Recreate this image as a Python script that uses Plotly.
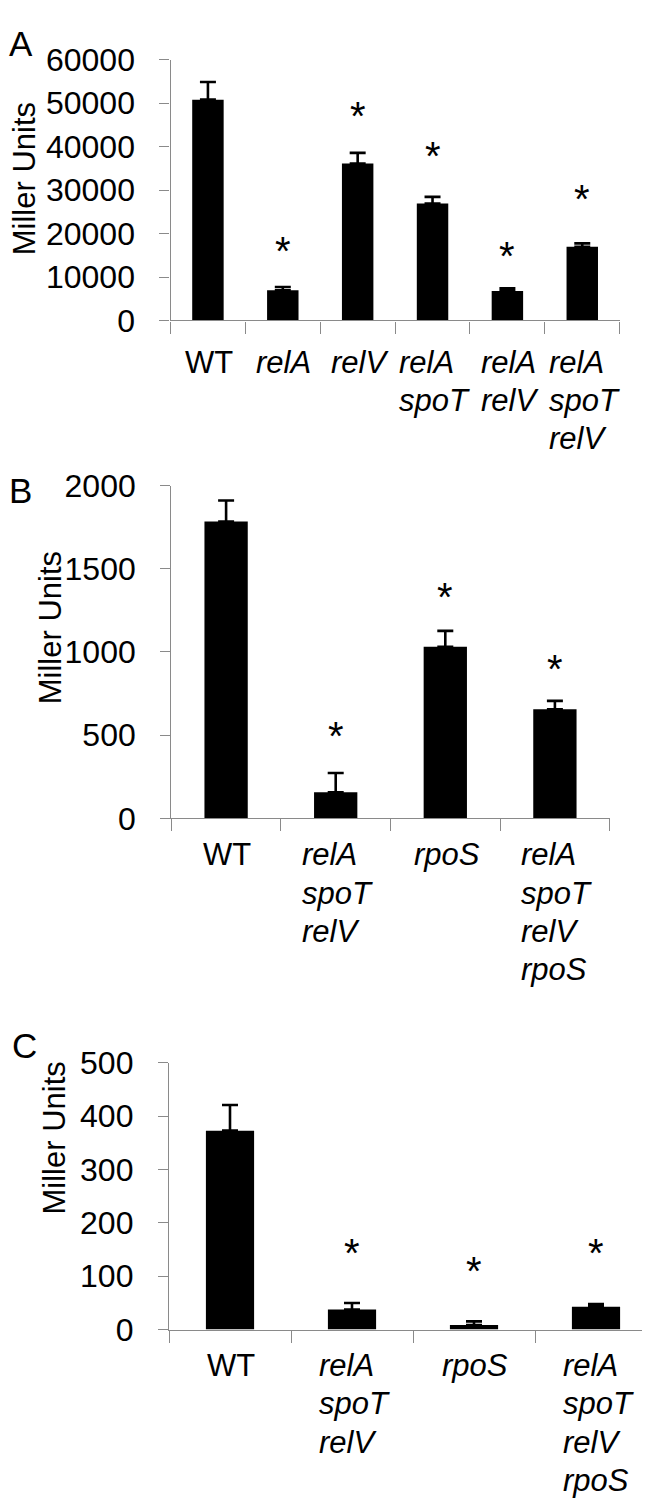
import plotly.graph_objects as go

# ---------------- data ----------------
cats_a = ["WT", "relA", "relV", "relA spoT", "relA relV", "relA spoT relV"]
vals_a = [50800, 6950, 36100, 26900, 6800, 16950]
errs_a = [4050, 750, 2450, 1550, 600, 800]
star_a = [None, 17200, 48100, 39100, 16100, 29100]

cats_b = ["WT", "relA spoT relV", "rpoS", "relA spoT relV rpoS"]
vals_b = [1784, 157, 1031, 655]
errs_b = [127, 115, 96, 51]
star_b = [None, 522, 1360, 930]

cats_c = ["WT", "relA spoT relV", "rpoS", "relA spoT relV rpoS"]
vals_c = [373, 37.5, 8.5, 43]
errs_c = [48, 12.3, 7, 5]
star_c = [None, 153, 120, 153]

ticks_a = [0, 10000, 20000, 30000, 40000, 50000, 60000]
ticks_b = [0, 500, 1000, 1500, 2000]
ticks_c = [0, 100, 200, 300, 400, 500]

# ---------------- style helpers ----------------
W, H = 650, 1507
FONT = "Arial, Liberation Sans, sans-serif"
AXC = "#8a8a8a"
LBL_SIZE = 31
LINE_GAP = 38.3
STAR_SIZE = 40

# Arial / Liberation Sans advance widths (em) for label width estimates
ADV = {"r": .333, "e": .556, "l": .222, "A": .667, "s": .5, "p": .556, "o": .556,
       "T": .611, "V": .667, "S": .667, "W": .944}


def px(x):
    return x / W


def py(y):
    return 1 - y / H


def text_w(s):
    return sum(ADV.get(ch, .55) for ch in s) * LBL_SIZE


panels = [
    # name, cats, vals, errs, stars, ticks, x0, x1, ytop, ybot, barwidth, title centre, letter pos, label baseline
    ("A", cats_a, vals_a, errs_a, star_a, ticks_a, 162.5, 611.7, 34.5, 301.7, 0.42, (16, 157), (-1, 40), 53.5),
    ("B", cats_b, vals_b, errs_b, star_b, ticks_b, 163.3, 601.7, 470.9, 811.7, 0.395, (42, 617), (-1, 498), 48.5),
    ("C", cats_c, vals_c, errs_c, star_c, ticks_c, 161.0, 649.0, 1062.3, 1335.5, 0.395, (46.7, 1139), (2, 1066), 48.0),
]

fig = go.Figure()
annotations = []
layout = dict(
    width=W, height=H,
    margin=dict(l=0, r=0, t=0, b=0),
    paper_bgcolor="white", plot_bgcolor="white",
    showlegend=False,
    font=dict(family=FONT, color="black"),
)

for i, (name, cats, vals, errs, stars, ticks, x0, x1, yt, yb, bw, ytl, let, base) in enumerate(panels):
    sfx = "" if i == 0 else str(i + 1)
    xa, ya = "x" + sfx, "y" + sfx
    n = len(cats)
    xs = list(range(n))
    fig.add_trace(go.Bar(
        x=xs, y=vals, width=bw, xaxis=xa, yaxis=ya,
        marker=dict(color="black", line=dict(width=0)),
        error_y=dict(type="data", array=errs, arrayminus=[0] * n, symmetric=False,
                     color="black", thickness=2.6, width=8),
        hoverinfo="skip",
    ))
    # significance asterisks
    for k, s in enumerate(stars):
        if s is None:
            continue
        annotations.append(dict(
            x=k, y=s, xref=xa, yref=ya, xanchor="center", yanchor="middle",
            yshift=-5, text="*", showarrow=False,
            font=dict(family=FONT, size=STAR_SIZE, color="black"),
        ))
    layout["xaxis" + sfx] = dict(
        domain=[px(x0), px(x1)], anchor=ya, range=[-0.5, n - 0.5],
        tickmode="array", tickvals=[k - 0.5 for k in range(n + 1)],
        showticklabels=False, ticks="outside", ticklen=12, tickwidth=1.3, tickcolor=AXC,
        showline=True, linecolor=AXC, linewidth=1.3, showgrid=False, zeroline=False,
        fixedrange=True,
    )
    layout["yaxis" + sfx] = dict(
        domain=[py(yb), py(yt)], anchor=xa, range=[0, ticks[-1]],
        tickmode="array", tickvals=ticks, ticktext=[str(t) for t in ticks],
        ticks="outside", ticklen=10, tickwidth=1.3, tickcolor=AXC,
        tickfont=dict(family=FONT, size=32, color="black"),
        ticklabelstandoff=18,
        showline=True, linecolor=AXC, linewidth=1.3, showgrid=False, zeroline=False,
        fixedrange=True,
    )
    # category labels: block centred on category, lines left-aligned
    for k, c in enumerate(cats):
        words = [c] if c == "WT" else c.split(" ")
        bwid = max(text_w(w) for w in words)
        for j, w in enumerate(words):
            txt = w if c == "WT" else "<i>%s</i>" % w
            annotations.append(dict(
                x=k, y=py(yb), xref=xa, yref="paper", xanchor="left", yanchor="bottom",
                xshift=-bwid / 2 - 1, yshift=-(base + j * LINE_GAP) - 0.212 * LBL_SIZE - 1,
                text=txt, showarrow=False, borderpad=1,
                font=dict(family=FONT, size=LBL_SIZE, color="black"),
            ))
    # y axis title
    annotations.append(dict(
        x=px(ytl[0]), y=py(ytl[1]), xref="paper", yref="paper",
        xanchor="center", yanchor="middle", text="Miller Units", textangle=-90,
        showarrow=False, font=dict(family=FONT, size=31, color="black"),
    ))
    # panel letter
    annotations.append(dict(
        x=px(let[0]), y=py(let[1]), xref="paper", yref="paper",
        xanchor="left", yanchor="bottom", text=name,
        showarrow=False, font=dict(family=FONT, size=35, color="black"),
    ))

layout["annotations"] = annotations
fig.update_layout(**layout)
fig.write_html("out.html")
